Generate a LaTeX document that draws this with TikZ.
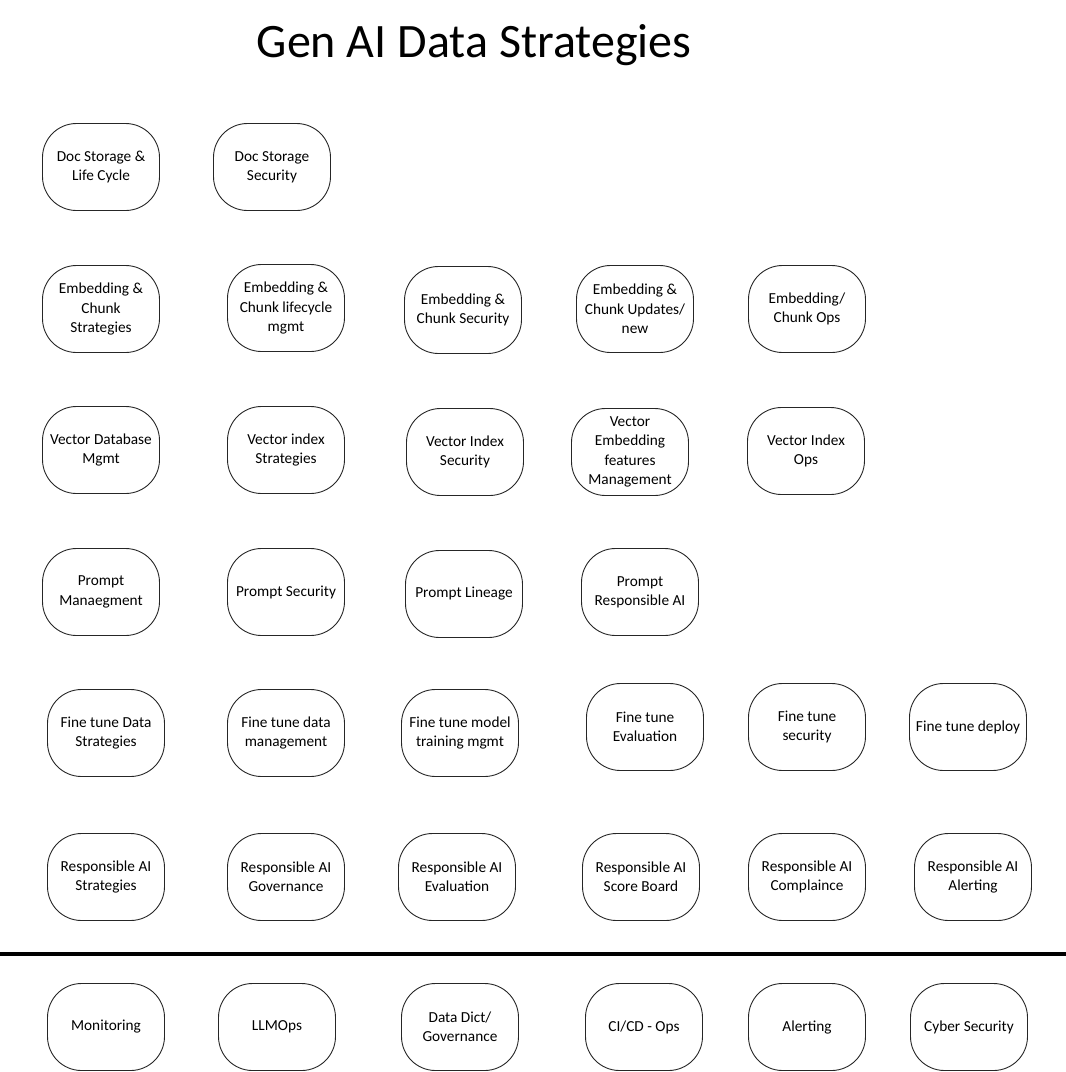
\documentclass[tikz,border=0pt]{standalone}
\usepackage{fontspec}
\setmainfont{Carlito}
\usepackage{tikz}
\usetikzlibrary{positioning}

\begin{document}
\begin{tikzpicture}[x=1pt, y=-1pt,
    blob/.style={draw=black!85, line width=0.9pt, rounded corners=34pt,
      minimum width=117pt, minimum height=87pt, align=center, inner sep=1pt,
      font=\fontsize{15.3}{19.3}\selectfont}]
    \useasboundingbox (0,0) rectangle (1066,1072);
    \node[font=\fontsize{48}{52}\selectfont] (title) at (474,45) {Gen AI Data Strategies};
    % documents
    \node[blob] (docLife) at (101,167) {Doc Storage \&\\Life Cycle};
    \node[blob] (docSec) at (272,167) {Doc Storage\\Security};
    % embeddings
    \node[blob] (embStrat) at (101,309) {Embedding \&\\Chunk\\Strategies};
    \node[blob] (embLife) at (286,308) {Embedding \&\\Chunk lifecycle\\mgmt};
    \node[blob] (embSec) at (463,310) {Embedding \&\\Chunk Security};
    \node[blob] (embUpd) at (635,309) {Embedding \&\\Chunk Updates/\\new};
    \node[blob] (embOps) at (807,309) {Embedding/\\Chunk Ops};
    % vectors
    \node[blob] (vecDb) at (101,450) {Vector Database\\Mgmt};
    \node[blob] (vecStrat) at (286,450) {Vector index\\Strategies};
    \node[blob] (vecSec) at (465,452) {Vector Index\\Security};
    \node[blob] (vecFeat) at (630,452) {Vector\\Embedding\\features\\Management};
    \node[blob] (vecOps) at (806,451) {Vector Index\\Ops};
    % prompts
    \node[blob] (prmMgmt) at (101,592) {Prompt\\Manaegment};
    \node[blob] (prmSec) at (286,592) {Prompt Security};
    \node[blob] (prmLin) at (464,594) {Prompt Lineage};
    \node[blob] (prmRai) at (640,592) {Prompt\\Responsible AI};
    % fine tuning
    \node[blob] (ftStrat) at (106,733) {Fine tune Data\\Strategies};
    \node[blob] (ftData) at (286,733) {Fine tune data\\management};
    \node[blob] (ftTrain) at (460,733) {Fine tune model\\training mgmt};
    \node[blob] (ftEval) at (645,727) {Fine tune\\Evaluation};
    \node[blob] (ftSec) at (807,727) {Fine tune\\security};
    \node[blob] (ftDeploy) at (968,727) {Fine tune deploy};
    % responsible ai
    \node[blob] (raiStrat) at (106,877) {Responsible AI\\Strategies};
    \node[blob] (raiGov) at (286,877) {Responsible AI\\Governance};
    \node[blob] (raiEval) at (457,877) {Responsible AI\\Evaluation};
    \node[blob] (raiScore) at (641,877) {Responsible AI\\Score Board};
    \node[blob] (raiComp) at (807,877) {Responsible AI\\Complaince};
    \node[blob] (raiAlert) at (973,877) {Responsible AI\\Alerting};
    % divider
    \coordinate (divL) at (0,954);
    \coordinate (divR) at (1066,954);
    \draw[line width=4pt] (divL) -- (divR);
    % common
    \node[blob] (monitor) at (106,1027) {Monitoring};
    \node[blob] (llmops) at (277,1027) {LLMOps};
    \node[blob] (dataDict) at (460,1027) {Data Dict/\\Governance};
    \node[blob] (cicd) at (644,1027) {CI/CD - Ops};
    \node[blob] (alert) at (807,1027) {Alerting};
    \node[blob] (cyber) at (969,1027) {Cyber Security};
\end{tikzpicture}
\end{document}
